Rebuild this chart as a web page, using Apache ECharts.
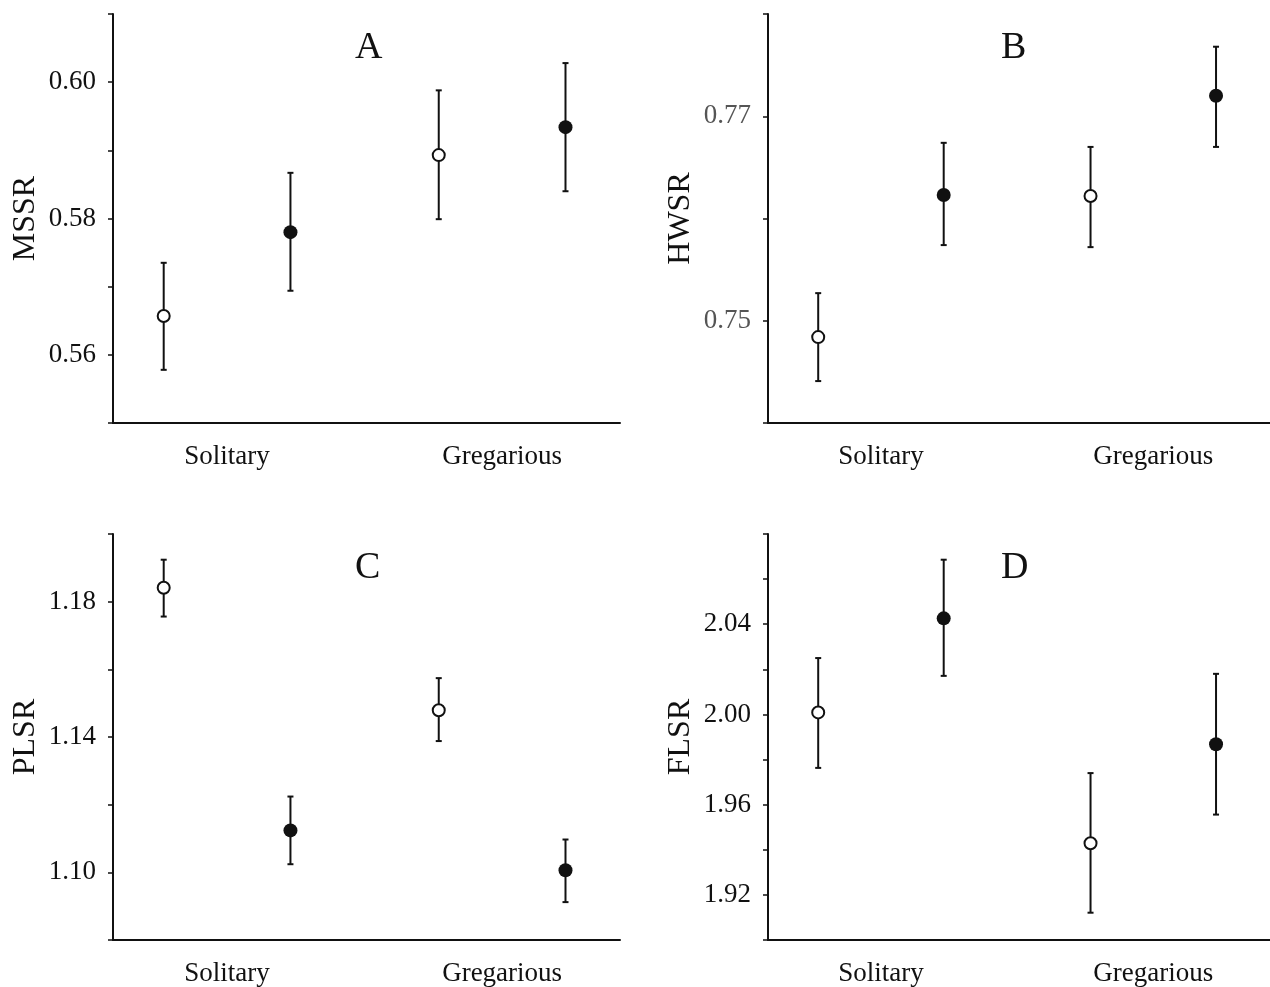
<!DOCTYPE html>
<html>
<head>
<meta charset="utf-8">
<script src="https://cdn.jsdelivr.net/npm/echarts@6/dist/echarts.min.js"></script>
<style>
html,body{margin:0;padding:0;background:#fff;overflow:hidden;}
#chart{width:1270px;height:987px;}
</style>
</head>
<body>
<div id="chart"></div>
<script>
// ---- data ----
const categories = ['Solitary', 'Gregarious'];
const panelLetters = ['A', 'B', 'C', 'D'];
const axisNames = ['MSSR', 'HWSR', 'PLSR', 'FLSR'];

// A: MSSR
const mssrOpenMean = [0.5657, 0.5893];
const mssrOpenLow = [0.5578, 0.5799];
const mssrOpenHigh = [0.5735, 0.5988];
const mssrFilledMean = [0.5780, 0.5934];
const mssrFilledLow = [0.5694, 0.5840];
const mssrFilledHigh = [0.5867, 0.6028];
const mssrTickLabels = [0.56, 0.58, 0.60];

// B: HWSR
const hwsrOpenMean = [0.7484, 0.7622];
const hwsrOpenLow = [0.7441, 0.7572];
const hwsrOpenHigh = [0.7527, 0.7670];
const hwsrFilledMean = [0.7623, 0.7720];
const hwsrFilledLow = [0.7574, 0.7670];
const hwsrFilledHigh = [0.7674, 0.7768];
const hwsrTickLabels = [0.75, 0.77];

// C: PLSR
const plsrOpenMean = [1.1841, 1.1479];
const plsrOpenLow = [1.1756, 1.1388];
const plsrOpenHigh = [1.1924, 1.1574];
const plsrFilledMean = [1.1124, 1.1006];
const plsrFilledLow = [1.1024, 1.0912];
const plsrFilledHigh = [1.1224, 1.1097];
const plsrTickLabels = [1.10, 1.14, 1.18];

// D: FLSR
const flsrOpenMean = [2.0009, 1.9429];
const flsrOpenLow = [1.9763, 1.9121];
const flsrOpenHigh = [2.0250, 1.9740];
const flsrFilledMean = [2.0426, 1.9868];
const flsrFilledLow = [2.0171, 1.9556];
const flsrFilledHigh = [2.0686, 2.0180];
const flsrTickLabels = [1.92, 1.96, 2.00, 2.04];

// ---- layout / axis config ----
const groupCenters = [0.9, 3.07];
const pairOffset = 0.5;
const panels = [
  {name: axisNames[0], letter: panelLetters[0], min: 0.55, max: 0.61, interval: 0.01, labels: mssrTickLabels, labelColor: '#111',
   open: [mssrOpenMean, mssrOpenLow, mssrOpenHigh], filled: [mssrFilledMean, mssrFilledLow, mssrFilledHigh],
   left: 113, top: 14, letterX: 355},
  {name: axisNames[1], letter: panelLetters[1], min: 0.74, max: 0.78, interval: 0.01, labels: hwsrTickLabels, labelColor: '#555',
   open: [hwsrOpenMean, hwsrOpenLow, hwsrOpenHigh], filled: [hwsrFilledMean, hwsrFilledLow, hwsrFilledHigh],
   left: 768, top: 14, letterX: 1001},
  {name: axisNames[2], letter: panelLetters[2], min: 1.08, max: 1.20, interval: 0.02, labels: plsrTickLabels, labelColor: '#111',
   open: [plsrOpenMean, plsrOpenLow, plsrOpenHigh], filled: [plsrFilledMean, plsrFilledLow, plsrFilledHigh],
   left: 113, top: 534, letterX: 355},
  {name: axisNames[3], letter: panelLetters[3], min: 1.90, max: 2.08, interval: 0.02, labels: flsrTickLabels, labelColor: '#111',
   open: [flsrOpenMean, flsrOpenLow, flsrOpenHigh], filled: [flsrFilledMean, flsrFilledLow, flsrFilledHigh],
   left: 768, top: 534, letterX: 1001}
];
const gridW = 507, gridH = 409;
const FONT = '"Liberation Serif", "Times New Roman", serif';
const INK = '#111';

const grid = [], xAxis = [], yAxis = [], series = [], graphic = [];

function errRender(params, api) {
  const x = api.value(0);
  const pLo = api.coord([x, api.value(1)]);
  const pHi = api.coord([x, api.value(2)]);
  const cap = 3;
  const st = {stroke: INK, lineWidth: 2};
  return {
    type: 'group',
    children: [
      {type: 'line', shape: {x1: pLo[0], y1: pLo[1], x2: pHi[0], y2: pHi[1]}, style: st},
      {type: 'line', shape: {x1: pLo[0] - cap, y1: pLo[1], x2: pLo[0] + cap, y2: pLo[1]}, style: st},
      {type: 'line', shape: {x1: pHi[0] - cap, y1: pHi[1], x2: pHi[0] + cap, y2: pHi[1]}, style: st}
    ]
  };
}

panels.forEach((p, i) => {
  grid.push({left: p.left, top: p.top, width: gridW, height: gridH, containLabel: false});
  xAxis.push({
    type: 'value', gridIndex: i, min: 0, max: 4,
    splitLine: {show: false},
    axisLine: {show: true, onZero: false, lineStyle: {color: INK, width: 2}},
    axisTick: {show: false},
    axisLabel: {
      show: true, customValues: groupCenters, margin: 20,
      fontFamily: FONT, fontSize: 27, color: INK,
      formatter: v => {
        const k = groupCenters.findIndex(c => Math.abs(c - v) < 1e-6);
        return k >= 0 ? categories[k] : '';
      }
    }
  });
  const labs = p.labels;
  yAxis.push({
    type: 'value', gridIndex: i, min: p.min, max: p.max, interval: p.interval,
    name: p.name, nameLocation: 'middle', nameGap: 71, nameRotate: 90,
    nameTextStyle: {fontFamily: FONT, fontSize: 32, color: INK},
    splitLine: {show: false},
    axisLine: {show: true, lineStyle: {color: INK, width: 2}},
    axisTick: {show: true, length: 5, lineStyle: {color: INK, width: 1.5}},
    axisLabel: {
      margin: 17, fontFamily: FONT, fontSize: 27, color: p.labelColor,
      formatter: v => labs.some(l => Math.abs(l - v) < 1e-7) ? v.toFixed(2) : ''
    }
  });
  const mk = (arr, k) => [groupCenters[k] + (arr === p.open ? -pairOffset : pairOffset), arr[1][k], arr[2][k]];
  const errData = [mk(p.open, 0), mk(p.open, 1), mk(p.filled, 0), mk(p.filled, 1)];
  series.push({
    type: 'custom', xAxisIndex: i, yAxisIndex: i, renderItem: errRender,
    data: errData, encode: {x: 0, y: [1, 2]}, z: 2, silent: true
  });
  series.push({
    type: 'scatter', xAxisIndex: i, yAxisIndex: i, symbol: 'circle', symbolSize: 12, z: 5,
    itemStyle: {color: '#fff', borderColor: INK, borderWidth: 2, opacity: 1},
    data: p.open[0].map((m, k) => [groupCenters[k] - pairOffset, m]), silent: true
  });
  series.push({
    type: 'scatter', xAxisIndex: i, yAxisIndex: i, symbol: 'circle', symbolSize: 14, z: 5,
    itemStyle: {color: INK, opacity: 1},
    data: p.filled[0].map((m, k) => [groupCenters[k] + pairOffset, m]), silent: true
  });
  graphic.push({
    type: 'text', left: p.letterX, top: p.top + 15,
    style: {text: p.letter, font: '38px ' + FONT, fill: INK}
  });
});

const chart = echarts.init(document.getElementById('chart'), null, {renderer: 'canvas'});
chart.setOption({
  backgroundColor: '#fff',
  animation: false,
  grid, xAxis, yAxis, series, graphic
});
</script>
</body>
</html>
